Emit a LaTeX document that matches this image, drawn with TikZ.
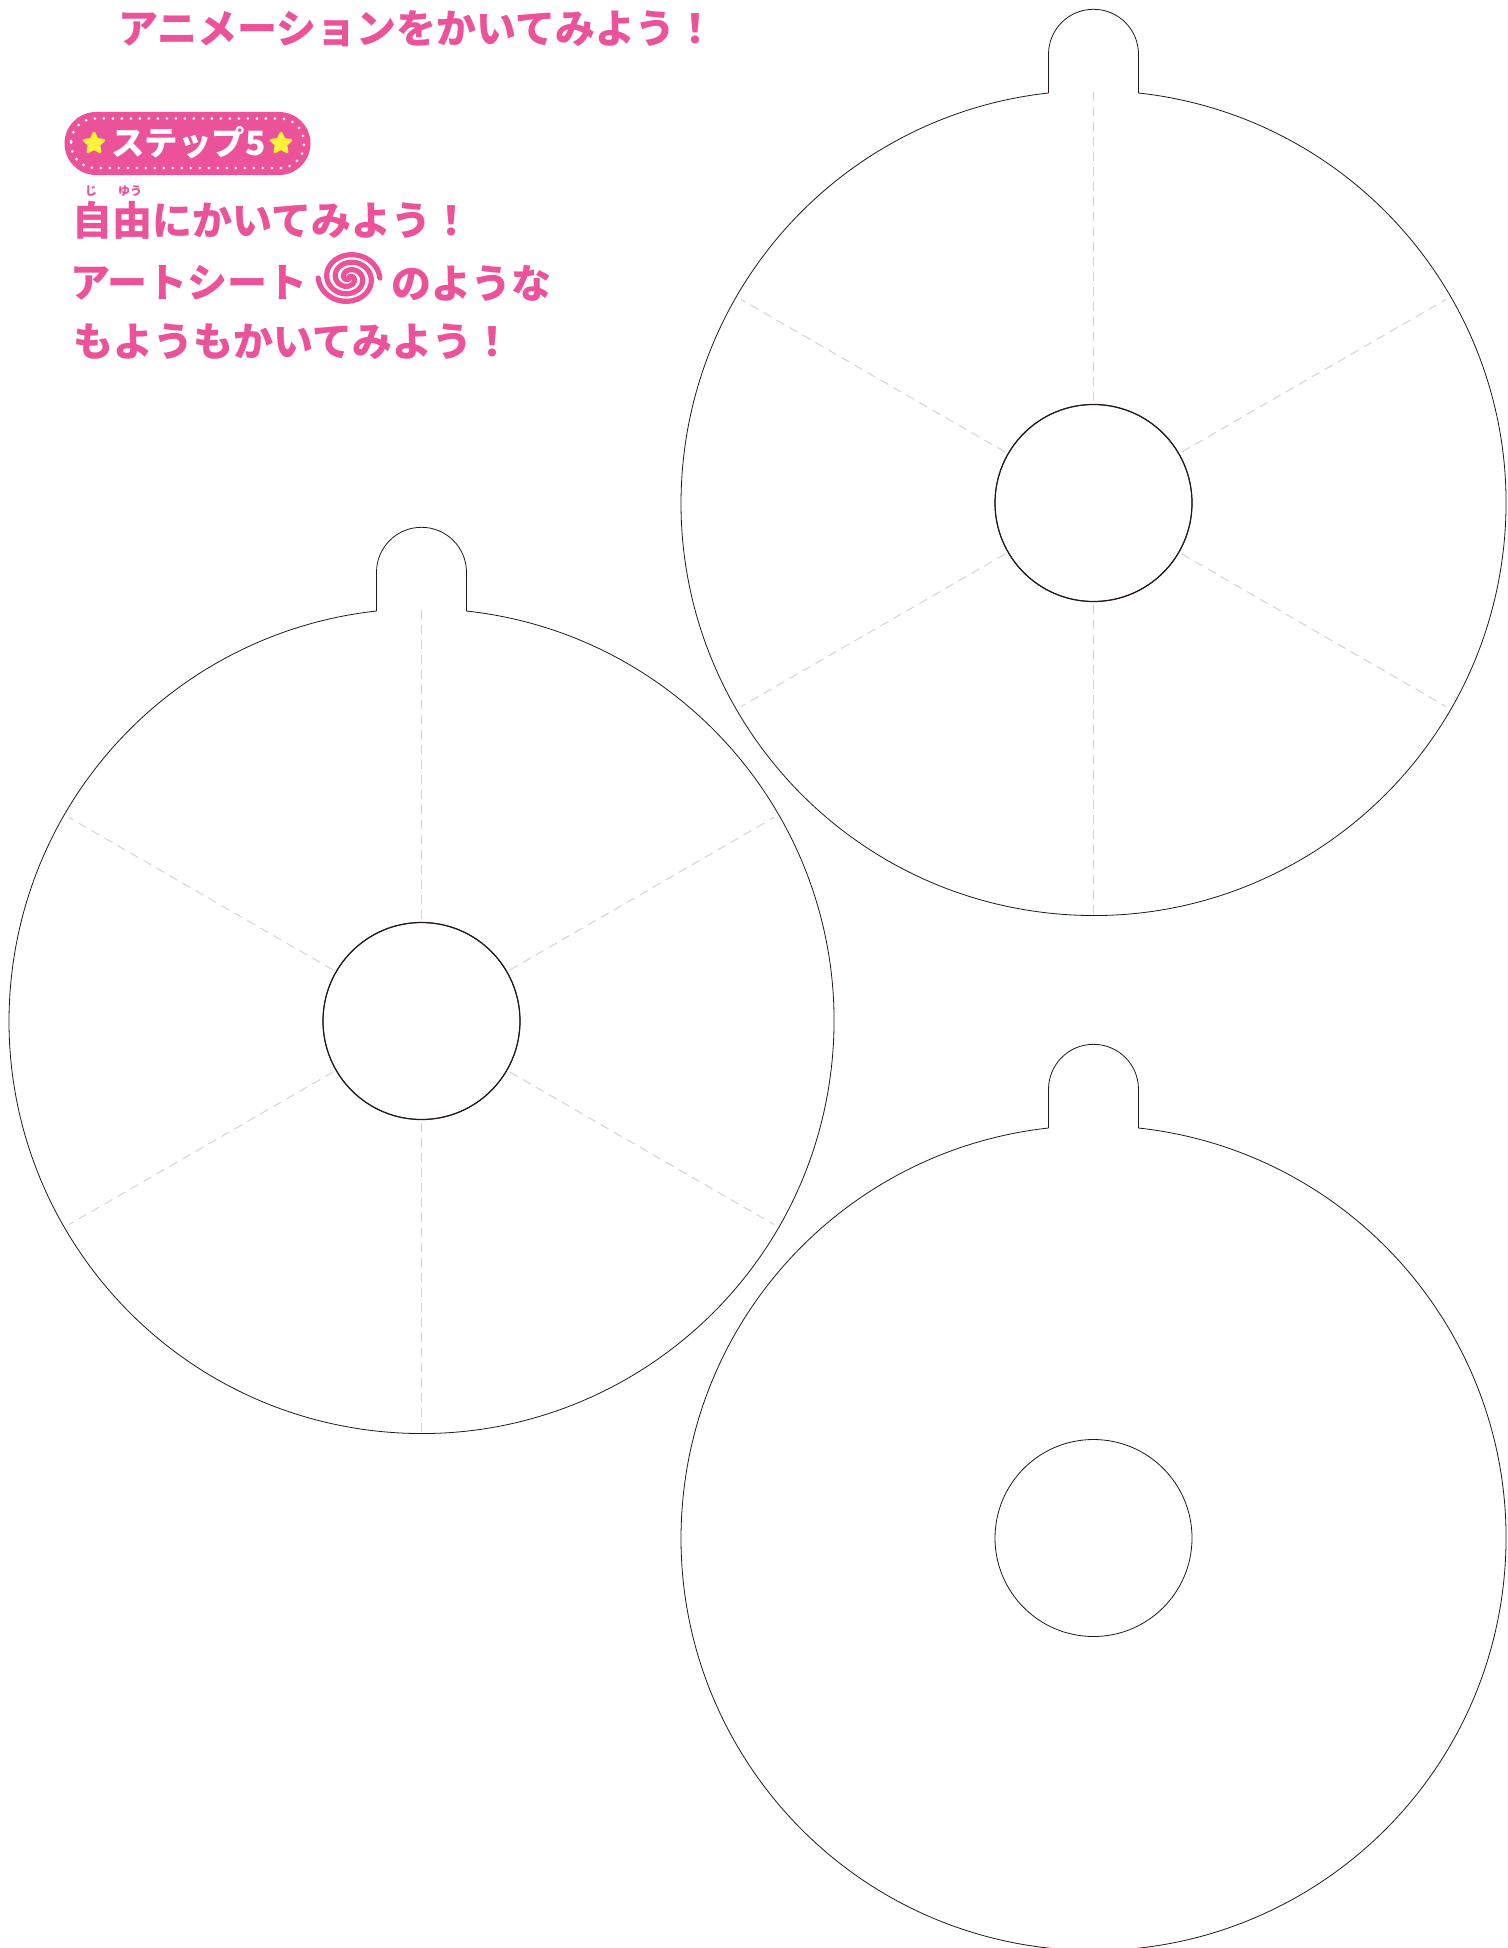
\documentclass[tikz,border=0pt]{standalone}
\usepackage{fontspec}
\usetikzlibrary{shapes.geometric}
\newfontfamily\jpfont{Noto Sans CJK JP}
\definecolor{stepPink}{HTML}{EC5299}
\definecolor{starYellow}{HTML}{FFF239}
\definecolor{spokeGray}{HTML}{D4D4D4}
\definecolor{wheelLine}{HTML}{231815}
\tikzset{
    headtext/.style={anchor=west, inner sep=0pt, text=stepPink, font=\jpfont\bfseries\fontsize{40}{40}\selectfont},
    rubytext/.style={inner sep=0pt, text=stepPink, font=\jpfont\bfseries\fontsize{12}{12}\selectfont},
    steptext/.style={inner sep=0pt, text=white, font=\jpfont\bfseries\fontsize{33.5}{33.5}\selectfont},
    stepstar/.style={star, star points=5, star point ratio=2, minimum size=21pt, inner sep=0pt, fill=starYellow, draw=starYellow, line width=2.5pt, line join=round},
    wheel/.style={draw=wheelLine, line width=0.8pt},
    wheelhub/.style={draw=wheelLine, line width=1.2pt},
    spoke/.style={draw=spokeGray, line width=1pt, dash pattern=on 9pt off 6pt},
    swirl/.style={stepPink, line width=5.2pt, line cap=round}
}
\newcommand{\wheelat}[2]{
    \begin{scope}[shift={(#1,#2)}]
    \draw[wheel] (-45,410) -- (-45,448.7) arc[start angle=180, end angle=0, radius=45pt] -- (45,410)
        arc[start angle=83.74, end angle=-263.74, radius=412.5pt];
    \draw[wheel] (0,0) circle[radius=98.5pt];
    \end{scope}
}
\newcommand{\spokesat}[2]{
    \begin{scope}[shift={(#1,#2)}]
    \foreach \ang/\rad in {30/407,90/411,150/407,210/407,270/411,330/407}
        \draw[spoke] (\ang:102pt) -- (\ang:\rad pt);
    \draw[wheelhub] (0,0) circle[radius=98.5pt];
    \end{scope}
}
\begin{document}
\begin{tikzpicture}[x=1pt, y=1pt]
    \useasboundingbox (0,0) rectangle (1507,-1948);
    \fill[white] (0,0) rectangle (1507,-1948);

    % the three wheels
    \spokesat{1093.5}{-503}
    \wheelat{1093.5}{-503}
    \spokesat{421.5}{-1021}
    \wheelat{421.5}{-1021}
    \wheelat{1093.5}{-1538}

    % top text
    \node[headtext] (title) at (118,-29) {アニメーションをかいてみよう！};

    % step badge
    \fill[stepPink, rounded corners=31.5pt] (64.5,-112) rectangle (310.5,-175);
    \draw[white, line width=3pt, line cap=round, dash pattern=on 0pt off 9pt, rounded corners=24pt] (71,-118.5) rectangle (304,-168);
    \node[stepstar] (starl) at (94,-143.5) {};
    \node[stepstar] (starr) at (281,-143.5) {};
    \node[steptext, anchor=west] (step) at (111,-143) {ステップ5};

    % body text
    \node[rubytext] (rubyji) at (91,-191) {じ};
    \node[rubytext] (rubyyu) at (130,-191) {ゆう};
    \node[headtext] (lineone) at (72,-220) {自由にかいてみよう！};
    \node[headtext] (linetwo) at (70,-283) {アートシート};
    \node[headtext] (linetwob) at (391,-283) {のような};
    \node[headtext] (linethree) at (73,-342) {もようもかいてみよう！};

    % swirl, two arms
    \foreach \arm in {0,180}
        \draw[swirl] plot[domain=0:640, samples=100, smooth]
            ({349+\x*0.043*1.12*cos(640-\x+\arm)}, {-278+\x*0.043*0.98*sin(640-\x+\arm)});
\end{tikzpicture}
\end{document}
